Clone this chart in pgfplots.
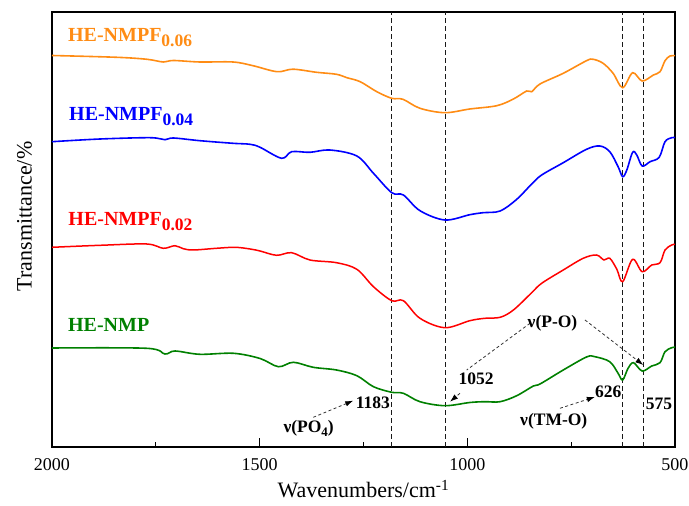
\documentclass[border=0pt]{standalone}
\usepackage{fontspec}
\setmainfont{Liberation Serif}
\usepackage{pgfplots}
\pgfplotsset{compat=1.18}
\usetikzlibrary{arrows.meta}

\definecolor{ftorange}{RGB}{255,140,20}
\definecolor{ftgreen}{RGB}{0,128,0}

% bold label font and lowered subscript
\newcommand{\curvefont}{\fontsize{20}{22}\selectfont\bfseries}
\newcommand{\annfont}{\fontsize{17.5}{20}\selectfont\bfseries}
\newcommand{\csub}[1]{\raisebox{-5pt}{\fontsize{17.5}{19}\selectfont #1}}
\newcommand{\asub}[1]{\raisebox{-4pt}{\fontsize{13}{15}\selectfont #1}}

\tikzset{
  vline/.style={gray!20!black, line width=1.3pt, dash pattern=on 5pt off 3pt},
  ann/.style={gray!40!black, line width=0.8pt, dash pattern=on 3pt off 2.5pt},
  annarrow/.style={ann, -{Latex[length=8pt,width=5.5pt,black]}},
  spec/.style={line width=1.6pt, smooth, tension=0.55},
}

\begin{document}
\begin{tikzpicture}
\begin{axis}[
  width=623pt, height=435pt, scale only axis,
  x dir=reverse, xmin=500, xmax=2000, ymin=0, ymax=435,
  xtick={2000,1500,1000,500}, minor xtick={1750,1250,750},
  xtick pos=left, ytick=\empty,
  tick align=inside,
  major tick length=8.5pt, minor tick length=4.5pt,
  every tick/.style={black, line width=1pt},
  axis line style={line width=1.2pt},
  /pgf/number format/assume math mode=true,
  /pgf/number format/1000 sep={},
  xticklabel style={font=\fontsize{18}{20}\selectfont, anchor=north, inner sep=0pt, yshift=-11pt},
  xlabel={Wavenumbers/cm\textsuperscript{-1}},
  ylabel={Transmittance/\%},
  xlabel style={font=\fontsize{22}{24}\selectfont, at={(axis description cs:0.5,-0.117)}, anchor=base, inner sep=0pt},
  ylabel style={font=\fontsize{22}{24}\selectfont, at={(axis description cs:-0.0326,0.53)}, anchor=base, inner sep=0pt},
  clip=false,
]

% peak positions
\addplot[vline] coordinates {(1183,0)(1183,435)};
\addplot[vline] coordinates {(1052,0)(1052,435)};
\addplot[vline] coordinates {(626,0)(626,435)};
\addplot[vline] coordinates {(575,0)(575,435)};

% HE-NMPF0.06
\addplot[ftorange, spec] coordinates {
(2000,391.5)(1844,389.7)(1771,387.7)(1732,385)(1708,386.5)(1644,385)(1564,385)
(1516,381.3)(1458,375.3)(1420,377.8)(1363,374.7)(1315,372.7)(1290,369.3)(1258,365.3)
(1218,355.3)(1182,348.7)(1155,347.7)(1114,338.7)(1054,334.3)(994,338)(929,341.3)
(889,348)(857,356)(845,355.3)(825,363)(769,373.7)(713,386.3)(697,387.7)(673,383.7)
(649,373.7)(626,359.3)(602,374.3)(579,366)(552,372)(536,375.3)(524,386.3)(512,391)(500,391.3)
};

% HE-NMPF0.04
\addplot[blue, spec] coordinates {
(2000,305.3)(1884,308)(1764,309.3)(1728,307.3)(1708,309)(1644,306.3)(1564,303.7)
(1523,302.7)(1499,299.7)(1447,288.7)(1423,295.3)(1379,294.7)(1331,297)(1266,291)
(1226,273.7)(1182,254.3)(1154,252)(1114,236.3)(1054,227)(994,232.3)(962,234.3)
(921,236)(881,247.7)(845,263)(821,272)(769,284.3)(713,297.7)(681,301)(657,295.3)
(637,280.3)(626,270.3)(616,277)(602,294.7)(592,292)(579,281)(560,285.3)(538,289.7)
(524,305.3)(508,309.3)(500,309.3)
};

% HE-NMPF0.02
\addplot[red, spec, line width=1.5pt] coordinates {
(2000,199.7)(1884,201.7)(1772,203)(1732,198.7)(1704,201.3)(1684,198.3)(1660,197)
(1604,198.7)(1559,199.7)(1523,198)(1499,196)(1459,191.7)(1423,194.3)(1379,187)
(1315,184.3)(1266,177.7)(1226,160.3)(1182,146.3)(1154,146.3)(1114,128.7)(1054,119.3)
(994,126.3)(958,128.7)(921,129.7)(889,137)(845,154.3)(821,163.7)(769,177)(721,188.7)
(689,192)(671,187)(657,188.7)(640,177.7)(626,165.3)(602,187.7)(579,175.3)(556,182)
(536,184.3)(524,197)(508,202)(500,202.7)
};

% HE-NMP
\addplot[ftgreen, spec] coordinates {
(2000,99)(1772,98.7)(1728,93)(1704,96)(1644,92.7)(1563,93.7)(1499,88.5)(1455,80.3)
(1419,84.7)(1371,79.7)(1315,77)(1266,71.3)(1226,60.3)(1182,54.7)(1154,53.7)(1114,45.3)
(1054,41.3)(994,44.5)(958,45.3)(921,45.3)(881,51.3)(841,61)(825,63)(769,77)(713,90)
(693,90.3)(657,85.3)(637,73.7)(626,67)(613,78.7)(600,84.3)(579,76)(556,81)(536,84.3)
(524,95.3)(508,99.3)(500,99.7)
};

% curve labels
\node[anchor=base west, inner sep=0pt, ftorange] at (axis cs:1961.5,405.3) {\curvefont HE-NMPF\csub{0.06}};
\node[anchor=base west, inner sep=0pt, blue] at (axis cs:1959,326.3) {\curvefont HE-NMPF\csub{0.04}};
\node[anchor=base west, inner sep=0pt, red] at (axis cs:1960.8,221) {\curvefont HE-NMPF\csub{0.02}};
\node[anchor=base west, inner sep=0pt, ftgreen] at (axis cs:1961.5,115.3) {\curvefont HE-NMP};

% band assignments
\draw[annarrow] (axis cs:1370.9,29.7) -- (axis cs:1274.6,46.3);
\node[anchor=base west, inner sep=0pt] at (axis cs:1443,14) {\annfont ν(PO\asub{4})};
\node[anchor=base east, inner sep=0pt] at (axis cs:1186.2,38.7) {\annfont 1183};

\draw[ann] (axis cs:849.1,123.7) -- (axis cs:1001.5,77);
\draw[annarrow] (axis cs:1017.7,53.7) -- (axis cs:1041.7,45.3);
\node[anchor=base west, inner sep=0pt] at (axis cs:1021.7,62) {\annfont 1052};
\node[anchor=base west, inner sep=0pt] at (axis cs:855.1,119) {\annfont ν(P-O)};
\draw[annarrow] (axis cs:716.7,127) -- (axis cs:576.3,82);

\draw[annarrow] (axis cs:776.9,38.7) -- (axis cs:693,50);
\node[anchor=base west, inner sep=0pt] at (axis cs:692.6,49) {\annfont 626};
\node[anchor=base west, inner sep=0pt] at (axis cs:873.2,21) {\annfont ν(TM-O)};
\node[anchor=base west, inner sep=0pt] at (axis cs:570.5,37) {\annfont 575};
\end{axis}
\path (-52pt,-59pt) rectangle (637pt,447pt);
\end{tikzpicture}
\end{document}
